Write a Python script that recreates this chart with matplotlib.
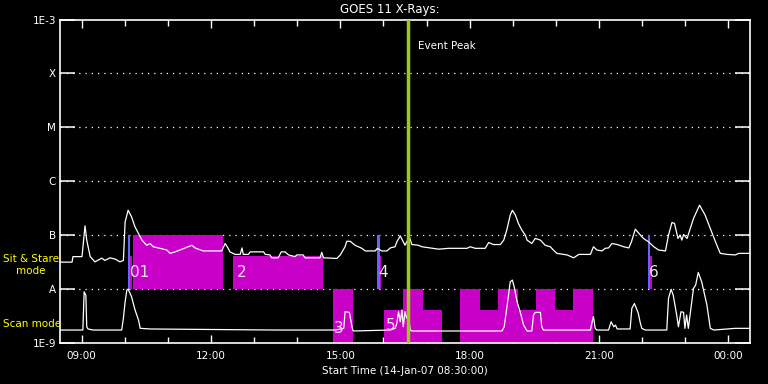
import matplotlib
matplotlib.use("Agg")
import matplotlib.pyplot as plt
from matplotlib.ticker import FixedLocator, FuncFormatter, NullFormatter

# ---------------- data (time in decimal hours of 14-Jan-07; >24 = next day) ----------------
long_t = [8.50, 8.78, 8.80, 9.01, 9.08, 9.12, 9.20, 9.31, 9.47, 9.54, 9.66, 9.78, 9.89, 9.97,
          10.01, 10.08, 10.16, 10.24, 10.32, 10.40, 10.51, 10.59, 10.66, 10.82, 10.98, 11.05,
          11.17, 11.28, 11.48, 11.56, 11.63, 11.82, 12.25, 12.33, 12.40, 12.44, 12.56, 12.68,
          12.72, 12.75, 12.87, 12.91, 13.22, 13.26, 13.37, 13.41, 13.56, 13.63, 13.72, 13.80,
          13.95, 13.99, 14.14, 14.18, 14.53, 14.57, 14.61, 14.92, 15.00, 15.11, 15.15, 15.23,
          15.34, 15.50, 15.58, 15.81, 15.86, 15.96, 16.08, 16.16, 16.27, 16.31, 16.39, 16.46,
          16.50, 16.60, 16.66, 16.81, 16.89, 17.08, 17.28, 17.51, 17.94, 18.01, 18.13, 18.36,
          18.44, 18.55, 18.71, 18.79, 18.86, 18.94, 18.99, 19.06, 19.13, 19.21, 19.29, 19.33,
          19.44, 19.52, 19.64, 19.75, 19.87, 19.94, 20.02, 20.18, 20.26, 20.41, 20.53, 20.80,
          20.87, 20.95, 21.07, 21.14, 21.22, 21.30, 21.42, 21.57, 21.69, 21.75, 21.84, 21.96,
          22.03, 22.15, 22.27, 22.38, 22.54, 22.61, 22.69, 22.75, 22.83, 22.88, 22.92, 22.96,
          23.04, 23.19, 23.33, 23.46, 23.58, 23.70, 23.81, 23.97, 24.16, 24.24, 24.51]
long_flux = [3.16e-8, 3.16e-8, 4.0e-8, 4.0e-8, 1.49e-7, 8.1e-8, 4.0e-8, 3.2e-8, 3.75e-8, 3.4e-8,
             3.8e-8, 3.6e-8, 3.2e-8, 3.4e-8, 1.76e-7, 2.9e-7, 2.18e-7, 1.42e-7, 1.07e-7, 8.1e-8,
             6.5e-8, 7.0e-8, 6.1e-8, 5.7e-8, 5.3e-8, 4.6e-8, 4.9e-8, 5.3e-8, 6.1e-8, 6.5e-8,
             5.8e-8, 5.1e-8, 5.1e-8, 7.0e-8, 5.7e-8, 4.9e-8, 4.4e-8, 4.4e-8, 5.8e-8, 4.4e-8,
             4.4e-8, 4.9e-8, 4.9e-8, 4.4e-8, 4.3e-8, 3.8e-8, 3.8e-8, 4.9e-8, 4.9e-8, 4.3e-8,
             4.0e-8, 4.3e-8, 4.3e-8, 3.8e-8, 3.8e-8, 4.8e-8, 3.8e-8, 3.7e-8, 4.3e-8, 6.1e-8,
             7.7e-8, 7.7e-8, 6.5e-8, 5.7e-8, 5.1e-8, 5.1e-8, 5.7e-8, 5.1e-8, 5.1e-8, 5.8e-8,
             6.1e-8, 7.5e-8, 9.7e-8, 7.5e-8, 6.5e-8, 9.3e-8, 6.7e-8, 6.5e-8, 6.1e-8, 5.8e-8,
             5.5e-8, 5.7e-8, 5.7e-8, 6.1e-8, 5.7e-8, 5.7e-8, 7.3e-8, 6.7e-8, 6.7e-8, 8.1e-8,
             1.24e-7, 2.35e-7, 2.9e-7, 2.35e-7, 1.65e-7, 1.24e-7, 1.0e-7, 8.1e-8, 7.0e-8, 8.7e-8,
             8.1e-8, 6.5e-8, 6.1e-8, 5.3e-8, 4.6e-8, 4.4e-8, 4.3e-8, 3.8e-8, 4.4e-8, 4.4e-8,
             6.1e-8, 5.3e-8, 5.1e-8, 5.7e-8, 5.8e-8, 7.0e-8, 6.7e-8, 6.1e-8, 5.8e-8, 7.5e-8,
             1.29e-7, 1.0e-7, 8.7e-8, 7.5e-8, 6.1e-8, 5.3e-8, 5.1e-8, 1.0e-7, 1.72e-7, 1.65e-7,
             8.7e-8, 1.0e-7, 8.1e-8, 1.03e-7, 8.7e-8, 2.04e-7, 3.6e-7, 2.35e-7, 1.33e-7, 7.5e-8,
             4.6e-8, 4.4e-8, 4.3e-8, 4.6e-8, 4.6e-8]

short_t = [8.50, 9.03, 9.06, 9.10, 9.12, 9.15, 9.27, 9.93, 9.97, 10.01, 10.05, 10.08, 10.16,
           10.24, 10.32, 10.36, 10.59, 13.50, 14.89, 15.08, 15.11, 15.21, 15.27, 15.30, 16.16,
           16.27, 16.31, 16.35, 16.39, 16.43, 16.46, 16.50, 16.54, 16.58, 16.62, 16.66, 18.75,
           18.80, 18.86, 18.94, 18.99, 19.04, 19.10, 19.17, 19.25, 19.33, 19.44, 19.48, 19.52,
           19.64, 19.67, 19.71, 20.80, 20.84, 20.87, 20.91, 20.95, 21.22, 21.28, 21.34, 21.38,
           21.42, 21.72, 21.76, 21.82, 21.88, 21.91, 21.95, 21.99, 22.07, 22.57, 22.61, 22.67,
           22.72, 22.80, 22.84, 22.90, 22.96, 22.99, 23.03, 23.07, 23.19, 23.24, 23.30, 23.38,
           23.50, 23.58, 23.66, 24.16, 24.51]
short_flux = [1.74e-9, 1.74e-9, 8.9e-9, 7.7e-9, 2.0e-9, 1.82e-9, 1.74e-9, 1.74e-9, 2.87e-9,
              5.8e-9, 9.6e-9, 1.0e-8, 7.2e-9, 4.1e-9, 2.67e-9, 1.87e-9, 1.82e-9, 1.74e-9,
              1.74e-9, 1.87e-9, 3.8e-9, 3.7e-9, 2.0e-9, 1.67e-9, 1.74e-9, 1.87e-9, 2.3e-9,
              3.8e-9, 2.48e-9, 4.1e-9, 2.0e-9, 3.8e-9, 2.87e-9, 3.3e-9, 1.74e-9, 1.67e-9,
              1.67e-9, 2.0e-9, 4.4e-9, 1.36e-8, 1.47e-8, 1.03e-8, 5.8e-9, 3.8e-9, 2.15e-9,
              1.67e-9, 1.67e-9, 3.3e-9, 3.7e-9, 3.7e-9, 2.0e-9, 1.74e-9, 1.74e-9, 2.48e-9,
              3.1e-9, 1.87e-9, 1.74e-9, 1.74e-9, 2.48e-9, 2.0e-9, 2.15e-9, 1.82e-9, 1.82e-9,
              4.4e-9, 5.4e-9, 4.1e-9, 3.55e-9, 2.48e-9, 1.87e-9, 1.74e-9, 1.74e-9, 6.7e-9,
              9.9e-9, 7.7e-9, 3.3e-9, 2.0e-9, 3.8e-9, 3.7e-9, 1.87e-9, 3.3e-9, 1.87e-9,
              1.03e-8, 1.19e-8, 2.04e-8, 1.36e-8, 5.1e-9, 1.87e-9, 1.74e-9, 1.87e-9, 1.87e-9]

# Sit & Stare observations (band 1e-8 .. 1e-7)
stare_start = [10.19, 12.51]
stare_end = [12.28, 14.60]
stare_top = [1e-7, 4.1e-8]
stare_labels = ["01", "2"]
# short pointing markers (blue bar then narrow magenta)
marker_start = [10.07, 15.85, 22.13]
marker_split = [10.12, 15.91, 22.17]
marker_end = [10.16, 15.95, 22.22]
marker_labels = ["", "4", "6"]

# Scan mode observations (band 1e-9 .. 1e-8)
scan_start = [14.83, 16.02, 16.46, 16.92, 17.78, 18.24, 18.66, 19.13, 19.54, 19.98, 20.40]
scan_end = [15.30, 16.46, 16.92, 17.36, 18.24, 18.66, 19.13, 19.54, 19.98, 20.40, 20.87]
scan_top = [1e-8, 4.1e-9, 1e-8, 4.1e-9, 1e-8, 4.1e-9, 1e-8, 4.1e-9, 1e-8, 4.1e-9, 1e-8]
scan_label_pos = [14.85, 16.05]
scan_labels = ["3", "5"]

event_peak = 16.57
y_ticks = [1e-9, 1e-8, 1e-7, 1e-6, 1e-5, 1e-4, 1e-3]
y_ticklabels = ["1E-9", "A", "B", "C", "M", "X", "1E-3"]
x_major = [9, 12, 15, 18, 21, 24]

# ---------------- drawing ----------------
W, H = 768, 384
fig = plt.figure(figsize=(W / 100, H / 100), dpi=100, facecolor="black")
ax = fig.add_axes([60 / W, 1 - 343 / H, 690 / W, 323.5 / H], facecolor="black")
ax.set_yscale("log")
ax.set_xlim(8.5, 24.5)
ax.set_ylim(1e-9, 1e-3)

MAG = "#c800c8"
BLUE = "#6464ff"

for s, e, top in zip(stare_start, stare_end, stare_top):
    ax.bar(s, top - 1e-8, bottom=1e-8, width=e - s, align="edge", color=MAG, lw=0, zorder=2)
for s, m, e in zip(marker_start, marker_split, marker_end):
    ax.bar(s, 1e-7 - 1e-8, bottom=1e-8, width=m - s, align="edge", color=BLUE, lw=0, zorder=2)
    ax.bar(m, 4.1e-8 - 1e-8, bottom=1e-8, width=e - m, align="edge", color=MAG, lw=0, zorder=2)
for s, e, top in zip(scan_start, scan_end, scan_top):
    ax.bar(s, top - 1e-9, bottom=1e-9, width=e - s, align="edge", color=MAG, lw=0, zorder=2)

# grid dotted lines at class levels
for yv in y_ticks[1:-1]:
    ax.axhline(yv, color="white", lw=0.9, ls=(0, (1, 4)), zorder=1)

ax.plot(long_t, long_flux, color="white", lw=0.9, zorder=4)
ax.plot(short_t, short_flux, color="white", lw=0.9, zorder=4)

# labels on observations
lab_kw = dict(color="#ffe0ff", fontsize=11, va="center", ha="left", zorder=5)
ax.text(10.12, 2.0e-8, "01", **lab_kw)
ax.text(12.59, 2.0e-8, "2", **lab_kw)
for s, lab in zip(marker_split, marker_labels):
    if lab:
        ax.text(s - 0.02, 2.0e-8, lab, **lab_kw)
for s, lab in zip(scan_label_pos, scan_labels):
    ax.text(s, 1.85e-9 if lab == "3" else 2.1e-9, lab, **lab_kw)

ax.axvline(event_peak, color="#a0c814", lw=2.5, zorder=6)
ax.text(event_peak + 0.22, 3.2e-4, "Event Peak", color="white", fontsize=7.5,
        va="center", ha="left", zorder=6)

# axes styling
for sp in ax.spines.values():
    sp.set_color("white")
    sp.set_linewidth(1.2)
ax.yaxis.set_major_locator(FixedLocator(y_ticks))
ax.yaxis.set_minor_locator(FixedLocator([]))
ax.set_yticklabels(y_ticklabels)
ax.tick_params(axis="y", which="major", direction="in", length=11, width=1.1,
               colors="white", labelsize=7.5, left=True, right=True, pad=3)
ax.xaxis.set_major_locator(FixedLocator(x_major))
ax.xaxis.set_minor_locator(FixedLocator([h for h in range(9, 25) if h not in x_major]))
ax.xaxis.set_major_formatter(FuncFormatter(lambda v, p: "%02d:00" % (int(round(v)) % 24)))
ax.xaxis.set_minor_formatter(NullFormatter())
ax.tick_params(axis="x", which="major", direction="in", length=6, width=1,
               colors="white", labelsize=7.5, top=True, bottom=True, pad=6)
ax.tick_params(axis="x", which="minor", direction="in", length=4, width=1,
               colors="white", top=True, bottom=True)
ax.set_xlabel("Start Time (14-Jan-07 08:30:00)", color="white", fontsize=7.5, labelpad=3)
fig.text(390 / W, 1 - 9 / H, "GOES 11 X-Rays:", color="white", fontsize=8.5,
         ha="center", va="center")

fig.text(3 / W, 1 - 259 / H, "Sit & Stare", color="yellow", fontsize=7.5, ha="left", va="center")
fig.text(31 / W, 1 - 271 / H, "mode", color="yellow", fontsize=7.5, ha="center", va="center")
fig.text(3 / W, 1 - 324 / H, "Scan mode", color="yellow", fontsize=7.5, ha="left", va="center")

fig.savefig("out.png", dpi=100, facecolor="black")
